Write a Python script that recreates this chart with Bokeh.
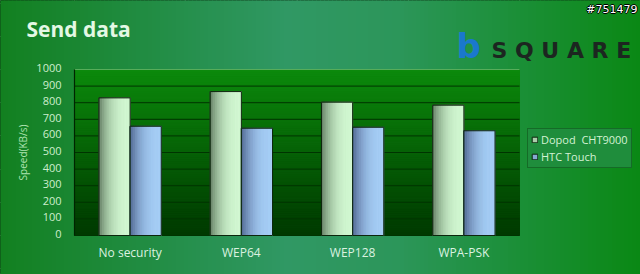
import numpy as np
from bokeh.plotting import figure
from bokeh.models import Range1d, Legend, LegendItem
from bokeh.core.properties import value
from bokeh.embed import file_html
from bokeh.resources import INLINE

# ---- data ----
categories = ["No security", "WEP64", "WEP128", "WPA-PSK"]
series_names = ["Dopod  CHT9000", "HTC Touch"]
dopod_speed = [829, 867, 803, 785]
htc_speed = [658, 646, 652, 631]
y_ticks = [0, 100, 200, 300, 400, 500, 600, 700, 800, 900, 1000]
y_tick_labels = [str(t) for t in y_ticks]
y_label = "Speed(KB/s)"
title_text = "Send data"

# ---- layout (pixels) ----
W, H = 640, 274
PX0, PX1 = 74, 519          # plot area left / right
PY_TOP, PY_BOT = 69, 235    # plot area top / bottom
YMAX = y_ticks[-1]
sx = (PX1 - PX0) / len(categories)
sy = (PY_BOT - PY_TOP) / YMAX


def dx(px):
    return (px - PX0) / sx


def dy(py):
    return (PY_BOT - py) / sy


def mix(c0, c1, t):
    return "#%02x%02x%02x" % tuple(int(round(a + (b - a) * t)) for a, b in zip(c0, c1))


def ramp(stops, t):
    for (t0, c0), (t1, c1) in zip(stops[:-1], stops[1:]):
        if t <= t1:
            return mix(c0, c1, (t - t0) / (t1 - t0) if t1 > t0 else 0)
    return mix(stops[-1][1], stops[-1][1], 0)


p = figure(width=W, height=H, x_range=Range1d(dx(0), dx(W)), y_range=Range1d(dy(H), dy(0)),
           output_backend="svg", toolbar_location=None, min_border=0,
           x_axis_location=None, y_axis_location=None)
p.outline_line_color = "#0b2e12"
p.background_fill_color = "#259447"
p.border_fill_color = "#259447"

# outer horizontal gradient
bg_stops = [(0.0, (18, 128, 32)), (0.45, (48, 152, 100)), (0.62, (44, 150, 90)), (1.0, (10, 136, 20))]
NB = 160
edges = np.linspace(0, W, NB + 1)
bg_cols = [ramp(bg_stops, (a + b) / 2 / W) for a, b in zip(edges[:-1], edges[1:])]
p.quad(left=[dx(a) for a in edges[:-1]], right=[dx(b) for b in edges[1:]],
       bottom=dy(H), top=dy(0), fill_color=bg_cols, line_color=bg_cols, line_width=1)

# plot area vertical gradient
NP = 80
yedges = np.linspace(0, YMAX, NP + 1)
pa_cols = [mix((0, 56, 0), (12, 138, 12), (a + b) / 2 / YMAX) for a, b in zip(yedges[:-1], yedges[1:])]
p.quad(left=0, right=len(categories), bottom=yedges[:-1], top=yedges[1:],
       fill_color=pa_cols, line_color=pa_cols, line_width=1)

# grid lines and axis line
p.segment(x0=0, x1=len(categories), y0=y_ticks[:-1], y1=y_ticks[:-1], line_color="#003400", line_width=1)
p.segment(x0=[0], x1=[len(categories)], y0=[YMAX], y1=[YMAX], line_color="#57ad5a", line_width=1)
p.segment(x0=[0], x1=[0], y0=[0], y1=[YMAX], line_color="#002400", line_width=1.2)

# bars with horizontal gradient
bar_w = 0.28
offsets = [-0.14, 0.14]
bar_colors = [((98, 124, 98), (210, 248, 210)), ((78, 100, 142), (166, 206, 246))]
legend_items = []
NS = 18
for s, (vals, off, (c_dark, c_light), name) in enumerate(
        zip([dopod_speed, htc_speed], offsets, bar_colors, series_names)):
    centers = [i + 0.5 + off for i in range(len(categories))]
    base = p.vbar(x=centers, top=vals, bottom=0, width=bar_w,
                  fill_color=mix(c_dark, c_light, 0.65), line_color="#0c260c", line_width=1)
    legend_items.append(LegendItem(label=name, renderers=[base]))
    lefts, rights, tops, cols = [], [], [], []
    for c, v in zip(centers, vals):
        x_edges = np.linspace(c - bar_w / 2, c + bar_w / 2, NS + 1)
        for k in range(NS):
            t = (k + 0.5) / NS
            lefts.append(x_edges[k])
            rights.append(x_edges[k + 1])
            tops.append(v)
            cols.append(mix(c_dark, c_light, 1 - (1 - t) ** 2.5))
    p.quad(left=lefts, right=rights, bottom=0, top=tops, fill_color=cols, line_color=cols, line_width=0.6)
    p.vbar(x=centers, top=vals, bottom=0, width=bar_w, fill_alpha=0, line_color="#0c260c", line_width=1)

# tick labels (nudged up a pixel and a half so they sit centred on the grid lines)
lift = 1.5 / sy
p.text(x=[dx(61)] * len(y_ticks), y=[t + lift for t in y_ticks], text=y_tick_labels, text_align="right",
       text_baseline="middle", text_font=value("Open Sans"), text_font_size="11px", text_color="#cdeecd")
p.text(x=[i + 0.5 for i in range(len(categories))], y=[dy(252)] * len(categories), text=categories,
       text_align="center", text_baseline="middle", text_font=value("Open Sans"),
       text_font_size="12px", text_color="#dcf2e0")
p.text(x=[dx(22)], y=[dy(152)], text=[y_label], angle=np.pi / 2, text_align="center",
       text_baseline="middle", text_font=value("Open Sans"), text_font_size="10px", text_color="#ade3b0")

# title and logo
p.text(x=[dx(26)], y=[dy(28.5)], text=[title_text], text_align="left", text_baseline="middle",
       text_font=value("Open Sans"), text_font_style="bold", text_font_size="21px", text_color="#e4f8e4")
p.text(x=[dx(456)], y=[dy(45)], text=["b"], text_align="left", text_baseline="middle",
       text_font=value("DejaVu Sans"), text_font_style="bold", text_font_size="34px", text_color="#1a78cc")
p.text(x=[dx(491)], y=[dy(49.5)], text=["S Q U A R E"], text_align="left", text_baseline="middle",
       text_font=value("DejaVu Sans"), text_font_style="bold", text_font_size="22px", text_color="#1c2620")

# tag in the corner
for ox, oy, col in [(-1, 0, "#000000"), (1, 0, "#000000"), (0, -1, "#000000"), (0, 1, "#000000"), (0, 0, "#ffffff")]:
    p.text(x=[dx(637 + ox)], y=[dy(9 + oy)], text=["#751479"], text_align="right", text_baseline="middle",
           text_font=value("DejaVu Sans"), text_font_size="11px", text_color=col)

legend = Legend(items=legend_items, location=(527, H - 168), orientation="vertical",
                label_text_font="Open Sans", label_text_font_size="11px", label_text_color="#d4f2d4",
                glyph_width=7, glyph_height=7, label_height=13, label_standoff=3, spacing=2, padding=3,
                margin=0, background_fill_color="#1f8d3c", background_fill_alpha=1.0,
                border_line_color="#0b4a12", border_line_width=1)
p.add_layout(legend, "center")

open("out.html", "w").write(file_html(p, INLINE))
